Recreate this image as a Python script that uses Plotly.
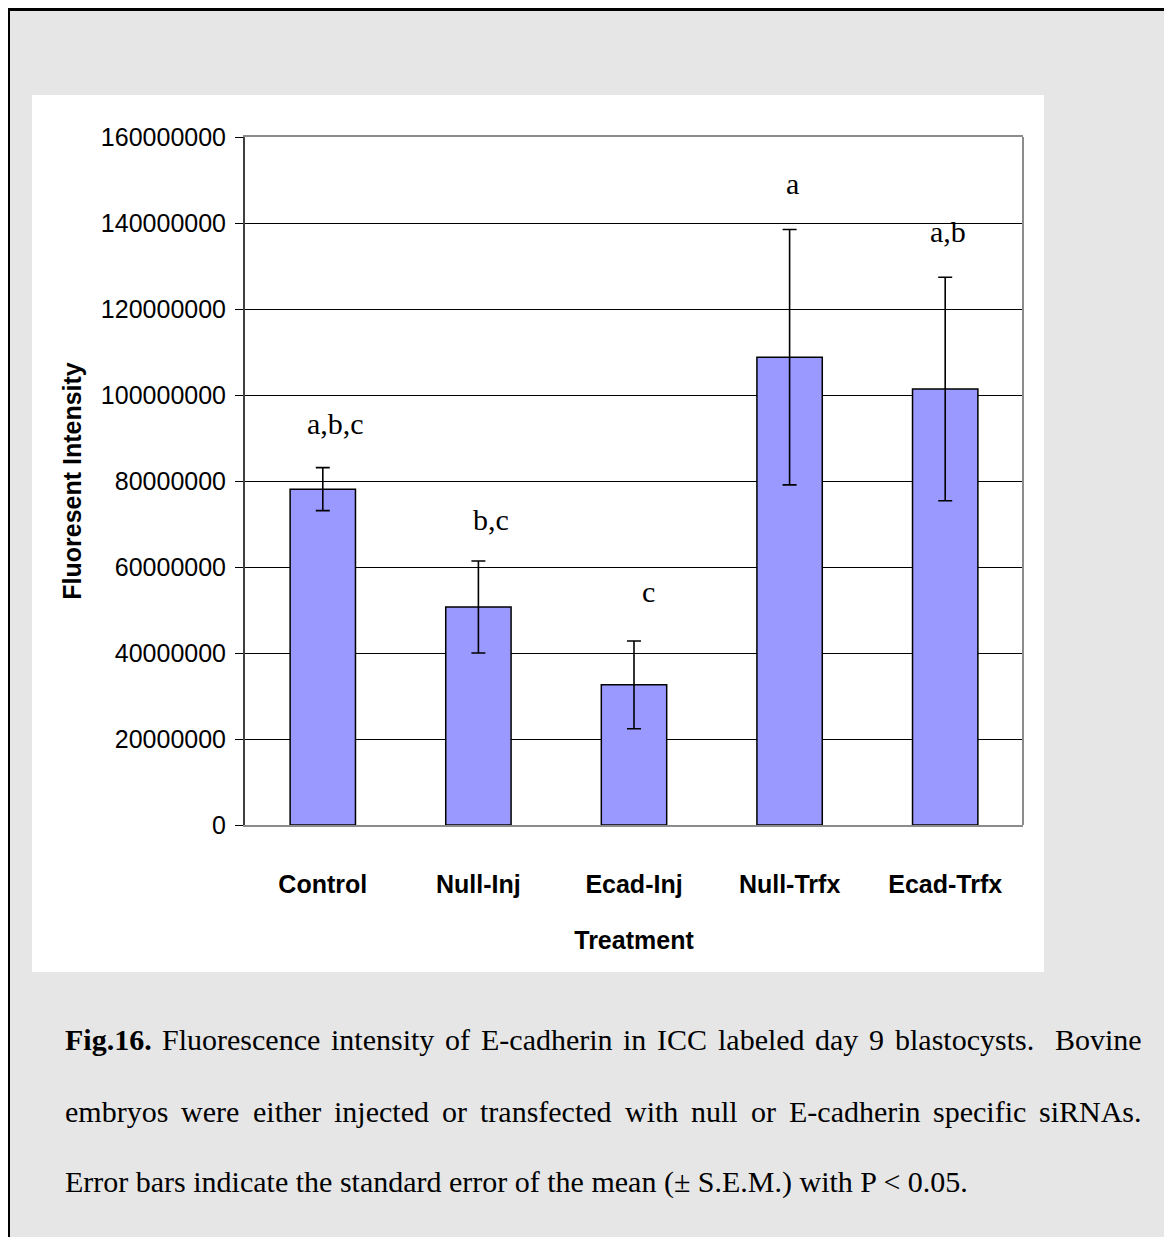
import plotly.graph_objects as go

# ---------------- data ----------------
categories = ["Control", "Null-Inj", "Ecad-Inj", "Null-Trfx", "Ecad-Trfx"]
means = [78.1e6, 50.7e6, 32.6e6, 108.8e6, 101.4e6]
sem = [5.0e6, 10.7e6, 10.2e6, 29.7e6, 26.0e6]
sig_letters = ["a,b,c", "b,c", "c", "a", "a,b"]
y_ticks = [0, 20000000, 40000000, 60000000, 80000000, 100000000, 120000000, 140000000, 160000000]

# ---------------- layout geometry (pixels) ----------------
OFF = 8                      # page body margin
W, H = 1164, 1229
L, R, T, B = 237, 149, 129, 412
PW, PH = W - L - R, H - T - B
YMAX = 160e6

def xp(px):                  # page pixel -> paper x
    return (px - OFF - L) / PW

def yp(py):                  # page pixel -> paper y
    return (H - B - (py - OFF)) / PH

# letter annotation placement (page pixel centers)
letter_px = [(335, 423), (491, 519), (648, 591), (792, 183), (948, 231)]

ARIAL = "Arial, Liberation Sans, sans-serif"
TIMES = "Times New Roman, Liberation Serif, serif"

fig = go.Figure()
fig.add_trace(go.Bar(
    x=categories, y=means,
    marker=dict(color="#9999ff", line=dict(color="black", width=1.5)),
    error_y=dict(type="data", array=sem, visible=True, color="black", thickness=1.6, width=7),
    width=0.42,
))

annotations = []
for txt, (px, py) in zip(sig_letters, letter_px):
    annotations.append(dict(x=xp(px), y=yp(py), xref="paper", yref="paper", text=txt,
                            showarrow=False, xanchor="center", yanchor="middle",
                            font=dict(family=TIMES, size=30, color="black")))

# ---------------- caption (justified like the source) ----------------
TW = {' ': 250, 'a': 444, 'b': 500, 'c': 444, 'd': 500, 'e': 444, 'f': 333, 'g': 500, 'h': 500,
      'i': 278, 'j': 278, 'k': 500, 'l': 278, 'm': 778, 'n': 500, 'o': 500, 'p': 500, 'q': 500,
      'r': 333, 's': 389, 't': 278, 'u': 500, 'v': 500, 'w': 722, 'x': 500, 'y': 500, 'z': 444,
      'A': 722, 'B': 667, 'C': 667, 'D': 722, 'E': 611, 'F': 556, 'G': 722, 'H': 722, 'I': 333,
      'J': 389, 'K': 722, 'L': 611, 'M': 889, 'N': 722, 'O': 722, 'P': 556, 'Q': 722, 'R': 667,
      'S': 556, 'T': 611, 'U': 722, 'V': 722, 'W': 944, 'X': 722, 'Y': 722, 'Z': 611,
      '0': 500, '1': 500, '2': 500, '3': 500, '4': 500, '5': 500, '6': 500, '7': 500, '8': 500,
      '9': 500, '.': 250, ',': 250, '-': 333, '(': 333, ')': 333, '<': 564, '±': 564}
TWB = dict(TW)
TWB.update({'F': 611, 'i': 278, 'g': 500})

CAP_SIZE = 30

def wwidth(word, bold=False):
    table = TWB if bold else TW
    return sum(table.get(ch, 500) for ch in word) * CAP_SIZE / 1000.0

def justify(tokens, x0, x1, py):
    # tokens: list of (word, bold, spaces_after)
    total = sum(wwidth(w, b) for w, b, _ in tokens)
    nsp = sum(s for _, _, s in tokens[:-1])
    gap = (x1 - x0 - total) / nsp
    x = x0
    for w, b, s in tokens:
        annotations.append(dict(x=xp(x), y=yp(py), xref="paper", yref="paper",
                                text=("<b>%s</b>" % w) if b else w, showarrow=False,
                                xanchor="left", yanchor="middle",
                                font=dict(family=TIMES, size=CAP_SIZE, color="black")))
        x += wwidth(w, b) + s * gap

line1 = [("Fig.16.", True, 1)] + [(w, False, 1) for w in
         "Fluorescence intensity of E-cadherin in ICC labeled day 9".split()] + \
        [("blastocysts.", False, 2), ("Bovine", False, 0)]
line2 = [(w, False, 1) for w in
         "embryos were either injected or transfected with null or E-cadherin specific siRNAs.".split()]
justify(line1, 63, 1140, 1039)
justify(line2, 63, 1140, 1111)
annotations.append(dict(x=xp(63), y=yp(1182), xref="paper", yref="paper",
                        text="Error bars indicate the standard error of the mean (± S.E.M.) with P &lt; 0.05.",
                        showarrow=False, xanchor="left", yanchor="middle",
                        font=dict(family=TIMES, size=CAP_SIZE, color="black")))

shapes = [
    # white chart panel
    dict(type="rect", xref="paper", yref="paper", x0=xp(32), x1=xp(1044), y0=yp(972), y1=yp(95),
         fillcolor="white", line=dict(width=0), layer="below"),
    # right border of plot area
    dict(type="line", xref="paper", yref="paper", x0=1, x1=1, y0=0, y1=1,
         line=dict(color="#8c8c8c", width=2)),
    # outer page border (left and top)
    dict(type="line", xref="paper", yref="paper", x0=xp(OFF), x1=xp(OFF), y0=yp(OFF), y1=yp(H + OFF + 5),
         line=dict(color="black", width=4)),
    dict(type="line", xref="paper", yref="paper", x0=xp(OFF), x1=xp(W + OFF + 5), y0=yp(9.5), y1=yp(9.5),
         line=dict(color="black", width=3)),
]

fig.update_layout(
    width=W, height=H, autosize=False,
    margin=dict(l=L, r=R, t=T, b=B, pad=0),
    paper_bgcolor="#e6e6e6", plot_bgcolor="white",
    showlegend=False, bargap=0.58,
    annotations=annotations, shapes=shapes,
    font=dict(family=ARIAL, color="black"),
    xaxis=dict(
        showline=True, linecolor="#8c8c8c", linewidth=2, mirror=True,
        ticks="", showgrid=False, zeroline=False,
        tickfont=dict(family=ARIAL, size=25, color="black"),
        tickvals=categories, ticktext=["<b>%s</b>" % c for c in categories],
        ticklabelstandoff=36,
        title=dict(text="<b>Treatment</b>", font=dict(family=ARIAL, size=25, color="black"), standoff=34),
        automargin=False,
    ),
    yaxis=dict(
        range=[0, YMAX], tickvals=y_ticks, ticktext=[str(v) for v in y_ticks],
        showline=True, linecolor="#404040", linewidth=2,
        ticks="outside", ticklen=8, tickcolor="black", tickwidth=1,
        showgrid=True, gridcolor="black", gridwidth=1, zeroline=False,
        tickfont=dict(family=ARIAL, size=25, color="black"),
        ticklabelstandoff=4,
        title=dict(text="<b>Fluoresent Intensity</b>", font=dict(family=ARIAL, size=25, color="black"), standoff=12),
        automargin=False,
    ),
)

fig.write_html("out.html")
